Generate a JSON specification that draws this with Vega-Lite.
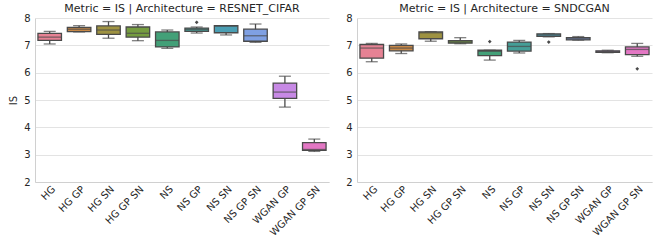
{
  "$schema": "https://vega.github.io/schema/vega-lite/v6.json",
  "padding": {"left": 8, "top": 3, "right": 2, "bottom": 0},
  "background": "white",
  "data": {"values": [
    {"arch": "RESNET_CIFAR", "gan": "HG", "lo": 7.05, "q1": 7.18, "med": 7.30, "q3": 7.44, "hi": 7.51, "outlier": null},
    {"arch": "RESNET_CIFAR", "gan": "HG GP", "lo": 7.49, "q1": 7.50, "med": 7.59, "q3": 7.66, "hi": 7.72, "outlier": null},
    {"arch": "RESNET_CIFAR", "gan": "HG SN", "lo": 7.26, "q1": 7.40, "med": 7.56, "q3": 7.71, "hi": 7.87, "outlier": null},
    {"arch": "RESNET_CIFAR", "gan": "HG GP SN", "lo": 7.17, "q1": 7.30, "med": 7.44, "q3": 7.67, "hi": 7.76, "outlier": null},
    {"arch": "RESNET_CIFAR", "gan": "NS", "lo": 6.89, "q1": 6.94, "med": 7.18, "q3": 7.49, "hi": 7.56, "outlier": null},
    {"arch": "RESNET_CIFAR", "gan": "NS GP", "lo": 7.45, "q1": 7.51, "med": 7.58, "q3": 7.63, "hi": 7.67, "outlier": 7.84},
    {"arch": "RESNET_CIFAR", "gan": "NS SN", "lo": 7.38, "q1": 7.46, "med": 7.70, "q3": 7.72, "hi": 7.72, "outlier": null},
    {"arch": "RESNET_CIFAR", "gan": "NS GP SN", "lo": 7.11, "q1": 7.15, "med": 7.35, "q3": 7.59, "hi": 7.78, "outlier": null},
    {"arch": "RESNET_CIFAR", "gan": "WGAN GP", "lo": 4.74, "q1": 5.06, "med": 5.29, "q3": 5.62, "hi": 5.87, "outlier": null},
    {"arch": "RESNET_CIFAR", "gan": "WGAN GP SN", "lo": 3.12, "q1": 3.16, "med": 3.19, "q3": 3.44, "hi": 3.57, "outlier": null},
    {"arch": "SNDCGAN", "gan": "HG", "lo": 6.40, "q1": 6.53, "med": 6.90, "q3": 7.03, "hi": 7.07, "outlier": null},
    {"arch": "SNDCGAN", "gan": "HG GP", "lo": 6.70, "q1": 6.80, "med": 6.90, "q3": 7.00, "hi": 7.05, "outlier": null},
    {"arch": "SNDCGAN", "gan": "HG SN", "lo": 7.15, "q1": 7.24, "med": 7.46, "q3": 7.49, "hi": 7.50, "outlier": null},
    {"arch": "SNDCGAN", "gan": "HG GP SN", "lo": 7.06, "q1": 7.08, "med": 7.12, "q3": 7.17, "hi": 7.28, "outlier": null},
    {"arch": "SNDCGAN", "gan": "NS", "lo": 6.46, "q1": 6.62, "med": 6.78, "q3": 6.82, "hi": 6.82, "outlier": 7.14},
    {"arch": "SNDCGAN", "gan": "NS GP", "lo": 6.72, "q1": 6.79, "med": 6.96, "q3": 7.12, "hi": 7.18, "outlier": null},
    {"arch": "SNDCGAN", "gan": "NS SN", "lo": 7.31, "q1": 7.33, "med": 7.38, "q3": 7.42, "hi": 7.43, "outlier": 7.12},
    {"arch": "SNDCGAN", "gan": "NS GP SN", "lo": 7.19, "q1": 7.20, "med": 7.24, "q3": 7.28, "hi": 7.32, "outlier": null},
    {"arch": "SNDCGAN", "gan": "WGAN GP", "lo": 6.73, "q1": 6.74, "med": 6.77, "q3": 6.80, "hi": 6.82, "outlier": null},
    {"arch": "SNDCGAN", "gan": "WGAN GP SN", "lo": 6.60, "q1": 6.66, "med": 6.85, "q3": 6.94, "hi": 7.07, "outlier": 6.14}
  ]},
  "hconcat": [
    {
      "title": "Metric = IS | Architecture = RESNET_CIFAR",
      "width": 294, "height": 164,
      "transform": [{"filter": "datum.arch === 'RESNET_CIFAR'"}],
      "encoding": {
        "x": {"field": "gan", "type": "nominal", "sort": ["HG","HG GP","HG SN","HG GP SN","NS","NS GP","NS SN","NS GP SN","WGAN GP","WGAN GP SN"], "title": null,
              "scale": {"paddingInner": 0.2, "paddingOuter": 0.1},
              "axis": {"labelAngle": -45, "labelAlign": "right", "labelBaseline": "top", "labelPadding": 1, "labelLineHeight": 1,
                       "labelExpr": "(datum.label == 'HG' || datum.label == 'NS') ? ['\u00a0','\u00a0','\u00a0','\u00a0', datum.label] : (datum.label == 'WGAN GP SN') ? ['\u00a0','\u00a0','\u00a0','\u00a0','\u00a0','\u00a0','\u00a0','\u00a0','\u00a0','\u00a0','\u00a0','\u00a0','\u00a0', datum.label] : (datum.label == 'HG GP SN' || datum.label == 'NS GP SN' || datum.label == 'WGAN GP') ? ['\u00a0','\u00a0','\u00a0','\u00a0','\u00a0','\u00a0','\u00a0','\u00a0','\u00a0','\u00a0','\u00a0','\u00a0', datum.label] : ['\u00a0','\u00a0','\u00a0','\u00a0','\u00a0','\u00a0','\u00a0','\u00a0', datum.label]"}}
      },
      "layer": [
        {"mark": {"type": "rule", "color": "#4a4a4a", "strokeWidth": 1.3},
         "encoding": {"y": {"field": "lo", "type": "quantitative", "title": "IS", "scale": {"domain": [2, 8], "nice": false}, "axis": {"values": [2,3,4,5,6,7,8]}}, "y2": {"field": "hi"}}},
        {"mark": {"type": "tick", "color": "#4a4a4a", "thickness": 1.3, "size": 12},
         "encoding": {"y": {"field": "lo", "type": "quantitative", "title": "IS", "axis": {"values": [2,3,4,5,6,7,8]}}}},
        {"mark": {"type": "tick", "color": "#4a4a4a", "thickness": 1.3, "size": 12},
         "encoding": {"y": {"field": "hi", "type": "quantitative", "title": "IS", "axis": {"values": [2,3,4,5,6,7,8]}}}},
        {"mark": {"type": "bar", "stroke": "#4a4a4a", "strokeWidth": 1.3},
         "encoding": {"y": {"field": "q1", "type": "quantitative", "title": "IS", "axis": {"values": [2,3,4,5,6,7,8]}}, "y2": {"field": "q3"},
                      "color": {"field": "gan", "type": "nominal", "legend": null,
                                "scale": {"domain": ["HG","HG GP","HG SN","HG GP SN","NS","NS GP","NS SN","NS GP SN","WGAN GP","WGAN GP SN"],
                                          "range": ["#e68294","#c78847","#9e9241","#759c40","#43a078","#459e97","#4a9eb3","#7fa0e3","#c789e5","#e377c4"]}}}},
        {"mark": {"type": "tick", "color": "#4a4a4a", "thickness": 1.3, "size": 23.5},
         "encoding": {"y": {"field": "med", "type": "quantitative", "title": "IS", "axis": {"values": [2,3,4,5,6,7,8]}}}},
        {"mark": {"type": "point", "shape": "diamond", "filled": true, "color": "#4a4a4a", "size": 14, "opacity": 1},
         "encoding": {"y": {"field": "outlier", "type": "quantitative", "title": "IS", "axis": {"values": [2,3,4,5,6,7,8]}}}}
      ]
    },
    {
      "title": "Metric = IS | Architecture = SNDCGAN",
      "width": 295, "height": 164,
      "transform": [{"filter": "datum.arch === 'SNDCGAN'"}],
      "encoding": {
        "x": {"field": "gan", "type": "nominal", "sort": ["HG","HG GP","HG SN","HG GP SN","NS","NS GP","NS SN","NS GP SN","WGAN GP","WGAN GP SN"], "title": null,
              "scale": {"paddingInner": 0.2, "paddingOuter": 0.1},
              "axis": {"labelAngle": -45, "labelAlign": "right", "labelBaseline": "top", "labelPadding": 1, "labelLineHeight": 1,
                       "labelExpr": "(datum.label == 'HG' || datum.label == 'NS') ? ['\u00a0','\u00a0','\u00a0','\u00a0', datum.label] : (datum.label == 'WGAN GP SN') ? ['\u00a0','\u00a0','\u00a0','\u00a0','\u00a0','\u00a0','\u00a0','\u00a0','\u00a0','\u00a0','\u00a0','\u00a0','\u00a0', datum.label] : (datum.label == 'HG GP SN' || datum.label == 'NS GP SN' || datum.label == 'WGAN GP') ? ['\u00a0','\u00a0','\u00a0','\u00a0','\u00a0','\u00a0','\u00a0','\u00a0','\u00a0','\u00a0','\u00a0','\u00a0', datum.label] : ['\u00a0','\u00a0','\u00a0','\u00a0','\u00a0','\u00a0','\u00a0','\u00a0', datum.label]"}}
      },
      "layer": [
        {"mark": {"type": "rule", "color": "#4a4a4a", "strokeWidth": 1.3},
         "encoding": {"y": {"field": "lo", "type": "quantitative", "title": null, "scale": {"domain": [2, 8], "nice": false}, "axis": {"values": [2,3,4,5,6,7,8]}}, "y2": {"field": "hi"}}},
        {"mark": {"type": "tick", "color": "#4a4a4a", "thickness": 1.3, "size": 12},
         "encoding": {"y": {"field": "lo", "type": "quantitative", "title": null, "axis": {"values": [2,3,4,5,6,7,8]}}}},
        {"mark": {"type": "tick", "color": "#4a4a4a", "thickness": 1.3, "size": 12},
         "encoding": {"y": {"field": "hi", "type": "quantitative", "title": null, "axis": {"values": [2,3,4,5,6,7,8]}}}},
        {"mark": {"type": "bar", "stroke": "#4a4a4a", "strokeWidth": 1.3},
         "encoding": {"y": {"field": "q1", "type": "quantitative", "title": null, "axis": {"values": [2,3,4,5,6,7,8]}}, "y2": {"field": "q3"},
                      "color": {"field": "gan", "type": "nominal", "legend": null,
                                "scale": {"domain": ["HG","HG GP","HG SN","HG GP SN","NS","NS GP","NS SN","NS GP SN","WGAN GP","WGAN GP SN"],
                                          "range": ["#e68294","#c78847","#9e9241","#759c40","#43a078","#459e97","#4a9eb3","#7fa0e3","#c789e5","#e377c4"]}}}},
        {"mark": {"type": "tick", "color": "#4a4a4a", "thickness": 1.3, "size": 23.5},
         "encoding": {"y": {"field": "med", "type": "quantitative", "title": null, "axis": {"values": [2,3,4,5,6,7,8]}}}},
        {"mark": {"type": "point", "shape": "diamond", "filled": true, "color": "#4a4a4a", "size": 14, "opacity": 1},
         "encoding": {"y": {"field": "outlier", "type": "quantitative", "title": null, "axis": {"values": [2,3,4,5,6,7,8]}}}}
      ]
    }
  ],
  "spacing": 28,
  "bounds": "flush",
  "config": {
    "view": {"stroke": null},
    "font": "DejaVu Sans",
    "axis": {"labelFont": "DejaVu Sans", "labelFontSize": 10, "labelColor": "#262626", "titleFont": "DejaVu Sans", "titleFontSize": 10, "titleFontWeight": "normal", "titleColor": "#262626", "ticks": false, "domainColor": "#d0d0d0", "gridColor": "#e3e3e3", "labelPadding": 5, "titlePadding": 5},
    "axisX": {"grid": false},
    "axisY": {"grid": true, "domain": true},
    "title": {"font": "DejaVu Sans", "fontSize": 11, "fontWeight": "normal", "color": "#262626", "offset": -1}
  }
}
